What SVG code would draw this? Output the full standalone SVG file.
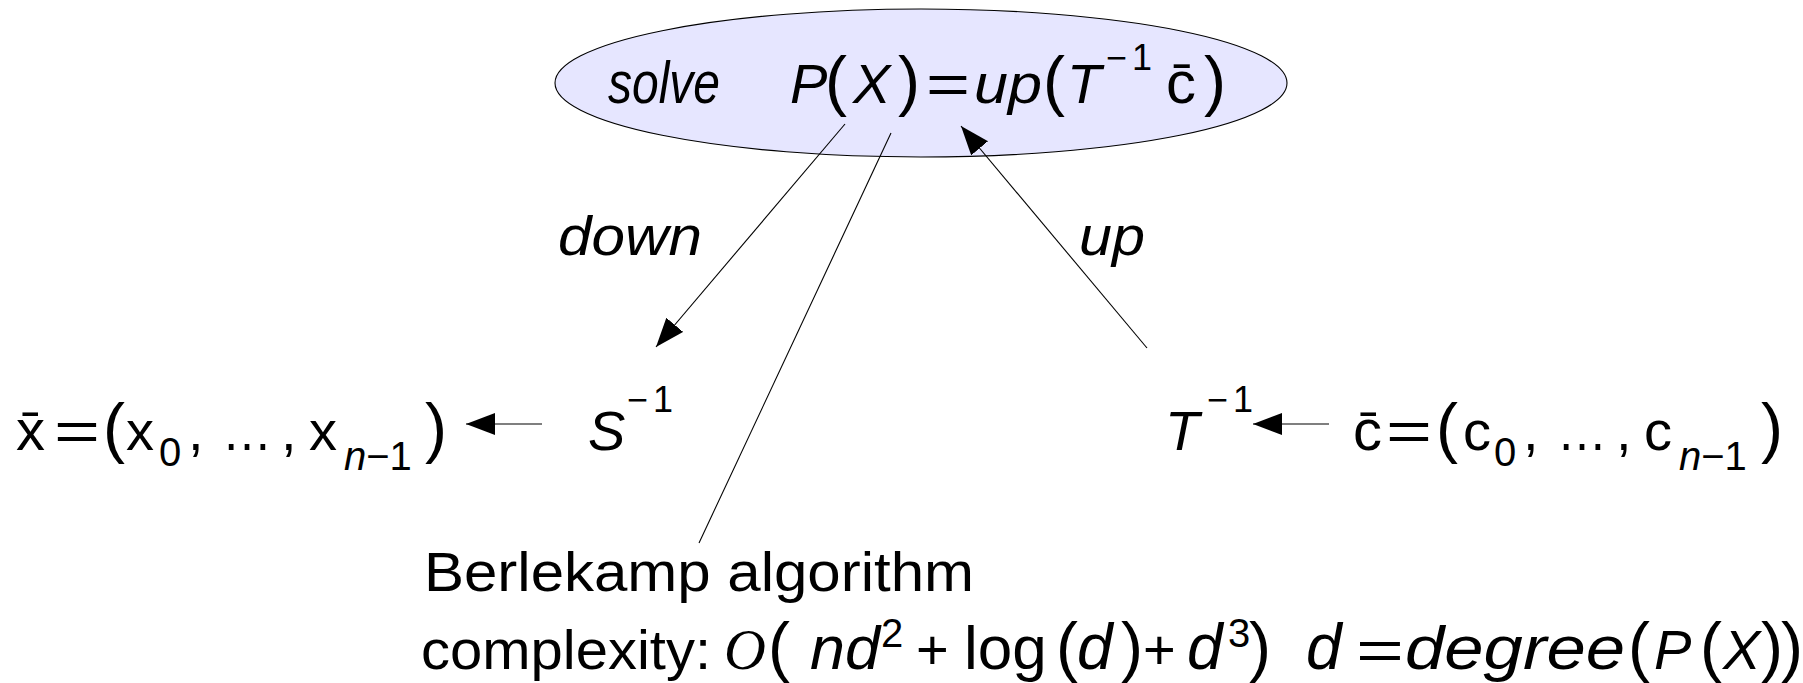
<svg xmlns="http://www.w3.org/2000/svg" width="1803" height="683" viewBox="0 0 1803 683">
<defs>
<style>
text{font-family:"Liberation Sans",Arial,sans-serif;font-size:56px;fill:#000}
.i{font-style:italic}
.p{font-size:66px}
.s{font-size:36px;letter-spacing:5px}
.b{font-size:40px}
.serif{font-family:"Liberation Serif","Times New Roman",serif;font-size:58px}
.ln{stroke:#000;stroke-width:1.1;fill:none}
</style>
<marker id="ah" markerUnits="userSpaceOnUse" markerWidth="32" markerHeight="24" refX="29" refY="11" orient="auto" viewBox="0 0 32 24">
<path d="M0,0 L29,11 L0,22 z" fill="#000"/>
</marker>
</defs>
<rect width="1803" height="683" fill="#fff"/>

<g id="node-solve">
<ellipse cx="921" cy="83" rx="366" ry="74" fill="#e6e6ff" stroke="#000" stroke-width="1.1"/>
<text class="i" x="608" y="103" style="font-size:60px" textLength="112" lengthAdjust="spacingAndGlyphs">solve</text>
<text class="i" x="790" y="103">P</text>
<text class="p" x="825" y="103">(</text>
<text class="i" x="853" y="103">X</text>
<text class="p" x="898" y="103">)</text>
<text x="926" y="103" textLength="44" lengthAdjust="spacingAndGlyphs">=</text>
<text class="i" x="974" y="103" textLength="68" lengthAdjust="spacingAndGlyphs">up</text>
<text class="p" x="1043" y="103">(</text>
<text class="i" x="1067" y="103">T</text>
<text class="s" x="1106" y="70">−1</text>
<text x="1166" y="103" style="font-size:60px">c̄</text>
<text class="p" x="1204" y="103">)</text>
</g>

<g id="connectors">
<line class="ln" x1="845" y1="124" x2="656" y2="347" marker-end="url(#ah)"/>
<line class="ln" x1="891" y1="133" x2="699" y2="543"/>
<line class="ln" x1="1147" y1="348" x2="961" y2="126" marker-end="url(#ah)"/>
<line class="ln" x1="542" y1="424" x2="466" y2="424" marker-end="url(#ah)"/>
<line class="ln" x1="1329" y1="424" x2="1253" y2="424" marker-end="url(#ah)"/>
<text class="i" x="558" y="255" textLength="144" lengthAdjust="spacingAndGlyphs">down</text>
<text class="i" x="1079" y="255" textLength="66" lengthAdjust="spacingAndGlyphs">up</text>
</g>

<g id="node-x">
<text x="16" y="450" style="font-size:58px">x̄</text>
<text x="54" y="450" textLength="46" lengthAdjust="spacingAndGlyphs">=</text>
<text class="p" x="103" y="450">(</text>
<text x="126" y="450">x</text>
<text class="b" x="159" y="466">0</text>
<text x="188" y="450">,</text>
<text x="222" y="450" textLength="50" lengthAdjust="spacingAndGlyphs">…</text>
<text x="281" y="450">,</text>
<text x="309" y="450">x</text>
<text class="b" x="344" y="470"><tspan class="i">n</tspan>−1</text>
<text class="p" x="425" y="450">)</text>
</g>

<g id="node-S">
<text class="i" x="588" y="450">S</text>
<text class="s" x="627" y="412">−1</text>
</g>

<g id="node-T">
<text class="i" x="1165" y="450">T</text>
<text class="s" x="1207" y="412">−1</text>
</g>

<g id="node-c">
<text x="1353" y="450" style="font-size:58px">c̄</text>
<text x="1386" y="450" textLength="46" lengthAdjust="spacingAndGlyphs">=</text>
<text class="p" x="1436" y="450">(</text>
<text x="1463" y="450">c</text>
<text class="b" x="1494" y="466">0</text>
<text x="1523" y="450">,</text>
<text x="1557" y="450" textLength="50" lengthAdjust="spacingAndGlyphs">…</text>
<text x="1616" y="450">,</text>
<text x="1644" y="450">c</text>
<text class="b" x="1679" y="470"><tspan class="i">n</tspan>−1</text>
<text class="p" x="1761" y="450">)</text>
</g>

<g id="node-berlekamp">
<text x="424" y="591" textLength="550" lengthAdjust="spacingAndGlyphs">Berlekamp algorithm</text>
<text x="421" y="669" textLength="290" lengthAdjust="spacingAndGlyphs">complexity:</text>
<text class="i serif" x="724" y="669">O</text>
<text class="p" x="768" y="669">(</text>
<text class="i" x="810" y="669" style="font-size:62px" textLength="70" lengthAdjust="spacingAndGlyphs">nd</text>
<text class="b" x="881" y="647">2</text>
<text x="916" y="669">+</text>
<text x="964" y="669" style="font-size:62px">log</text>
<text class="p" x="1056" y="669">(</text>
<text class="i" x="1077" y="669" style="font-size:64px">d</text>
<text class="p" x="1121" y="669">)</text>
<text x="1143" y="669">+</text>
<text class="i" x="1187" y="669" style="font-size:64px">d</text>
<text class="b" x="1228" y="647">3</text>
<text class="p" x="1249" y="669">)</text>
<text class="i" x="1306" y="669" style="font-size:64px">d</text>
<text x="1356" y="669" textLength="48" lengthAdjust="spacingAndGlyphs">=</text>
<text class="i" x="1405" y="669" style="font-size:62px" textLength="220" lengthAdjust="spacingAndGlyphs">degree</text>
<text class="p" x="1628" y="669">(</text>
<text class="i" x="1654" y="669">P</text>
<text class="p" x="1700" y="669">(</text>
<text class="i" x="1723" y="669">X</text>
<text class="p" x="1761" y="669">)</text>
<text class="p" x="1781" y="669">)</text>
</g>
</svg>
